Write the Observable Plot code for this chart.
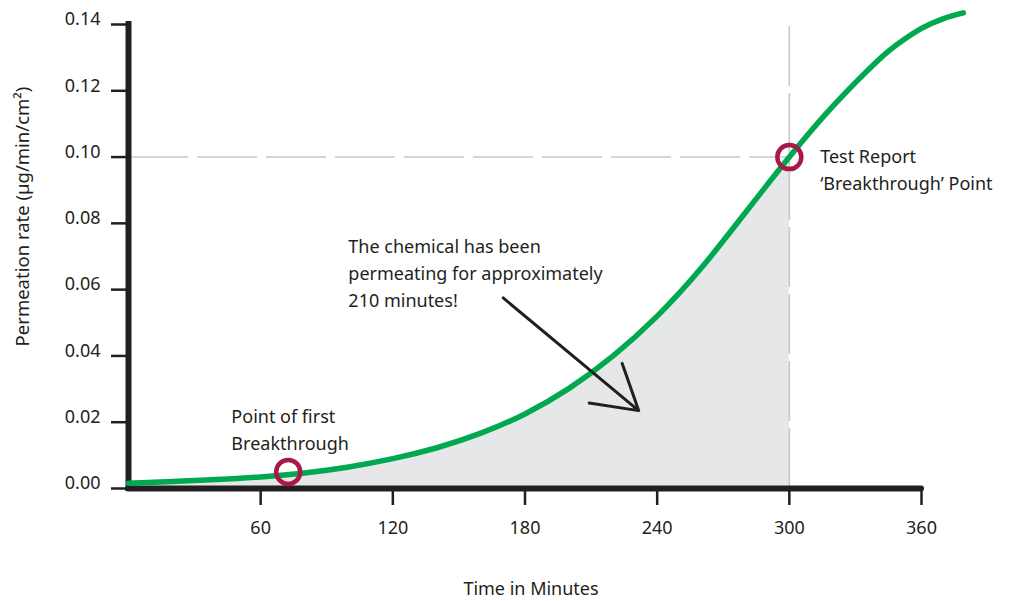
<!DOCTYPE html>
<html>
<head>
<meta charset="utf-8">
<script src="https://cdn.jsdelivr.net/npm/d3@7"></script>
<script src="https://cdn.jsdelivr.net/npm/@observablehq/plot@0.6"></script>
<style>
  html, body { margin: 0; padding: 0; background: #ffffff; }
</style>
</head>
<body>
<div id="chart"></div>
<script>
// Permeation curve (minutes, µg/min/cm²)
const minutes = [0, 20, 40, 60, 80, 100, 120, 140, 160, 180, 200, 220, 240, 260, 280, 300, 320, 340, 350, 360, 370, 379];
const rate    = [0.0016, 0.0021, 0.0027, 0.0035, 0.0047, 0.0065, 0.0090, 0.0123, 0.0167, 0.0225, 0.0302, 0.0400, 0.0520, 0.0665, 0.0832, 0.1000, 0.1155, 0.1290, 0.1345, 0.1388, 0.1418, 0.1435];

// Axis ticks
const xTicks = [60, 120, 180, 240, 300, 360];
const yTicks = [0, 0.02, 0.04, 0.06, 0.08, 0.10, 0.12, 0.14];
const xTitle = "Time in Minutes";
const yTitle = "Permeation rate (µg/min/cm²)";

// Breakthrough markers
const markerX = [72.5, 300];
const markerY = [0.005, 0.100];
const reportX = 300;
const reportY = 0.100;

// Annotations
const noteText = [
  "Point of first\nBreakthrough",
  "The chemical has been\npermeating for approximately\n210 minutes!",
  "Test Report\n‘Breakthrough’ Point"
];
const noteX = [46.7, 99.8, 314];
const noteY = [0.02535, 0.07663, 0.10377];

// Arrow
const arrowX1 = [170.1];
const arrowY1 = [0.0575];
const arrowX2 = [231.6];
const arrowY2 = [0.0235];

const ink = "#231f20";
const curve = minutes.map((x, i) => ({x, y: rate[i]}));
const shaded = curve.filter(d => d.x <= reportX);
const markers = markerX.map((x, i) => ({x, y: markerY[i]}));
const notes = noteText.map((t, i) => ({t, x: noteX[i], y: noteY[i]}));
const arrows = arrowX1.map((x1, i) => ({x1, y1: arrowY1[i], x2: arrowX2[i], y2: arrowY2[i]}));

const chart = Plot.plot({
  width: 1022,
  height: 601,
  marginLeft: 128,
  marginRight: 101,
  marginTop: 24,
  marginBottom: 113,
  x: {domain: [0, 360]},
  y: {domain: [0, 0.14]},
  style: {fontFamily: "'Noto Sans', sans-serif", fontSize: "18px", color: ink, background: "#ffffff"},
  marks: [
    Plot.areaY(shaded, {x: "x", y: "y", fill: "#e6e7e8", curve: "natural"}),
    Plot.ruleY([reportY], {x1: 0, x2: reportX, stroke: "#c8c8c8", strokeWidth: 1.6, strokeDasharray: "60,9"}),
    Plot.ruleX([reportX], {y1: 0, y2: 0.14, stroke: "#c8c8c8", strokeWidth: 1.6, strokeDasharray: "60,7"}),
    Plot.axisY({ticks: yTicks, tickSize: 17, tickFormat: () => "", stroke: ink, strokeWidth: 2.5, label: null}),
    Plot.axisY({ticks: yTicks, tickSize: 0, tickPadding: 28, dy: -5, tickFormat: d => d.toFixed(2), fill: ink, fontSize: 18, label: null}),
    Plot.axisX({ticks: xTicks, tickSize: 17, tickPadding: 16, tickFormat: d => String(d), stroke: ink, strokeWidth: 2.5, fill: ink, fontSize: 18, label: null}),
    Plot.ruleX([0], {y1: 0, y2: 0.14, stroke: ink, strokeWidth: 6, strokeLinecap: "square"}),
    Plot.ruleY([0], {x1: 0, x2: 360, stroke: ink, strokeWidth: 6, strokeLinecap: "round"}),
    Plot.line(curve, {x: "x", y: "y", stroke: "#00a94f", strokeWidth: 5.5, curve: "natural"}),
    Plot.dot(markers, {x: "x", y: "y", r: 12, fill: "none", stroke: "#a8194a", strokeWidth: 4.5}),
    Plot.arrow(arrows, {x1: "x1", y1: "y1", x2: "x2", y2: "y2", stroke: ink, strokeWidth: 3, headLength: 25, headAngle: 62}),
    Plot.text(notes, {x: "x", y: "y", text: "t", textAnchor: "start", lineAnchor: "top", lineHeight: 1.48, fontSize: 18, fill: ink}),
    Plot.text([yTitle], {frameAnchor: "left", dx: -105, dy: -40, rotate: -90, textAnchor: "middle", lineAnchor: "middle", fontSize: 18.5, fill: ink}),
    Plot.text([xTitle], {frameAnchor: "bottom", dx: 6, dy: 94, textAnchor: "middle", lineAnchor: "top", fontSize: 18, fill: ink})
  ]
});
document.getElementById("chart").appendChild(chart);
</script>
</body>
</html>
